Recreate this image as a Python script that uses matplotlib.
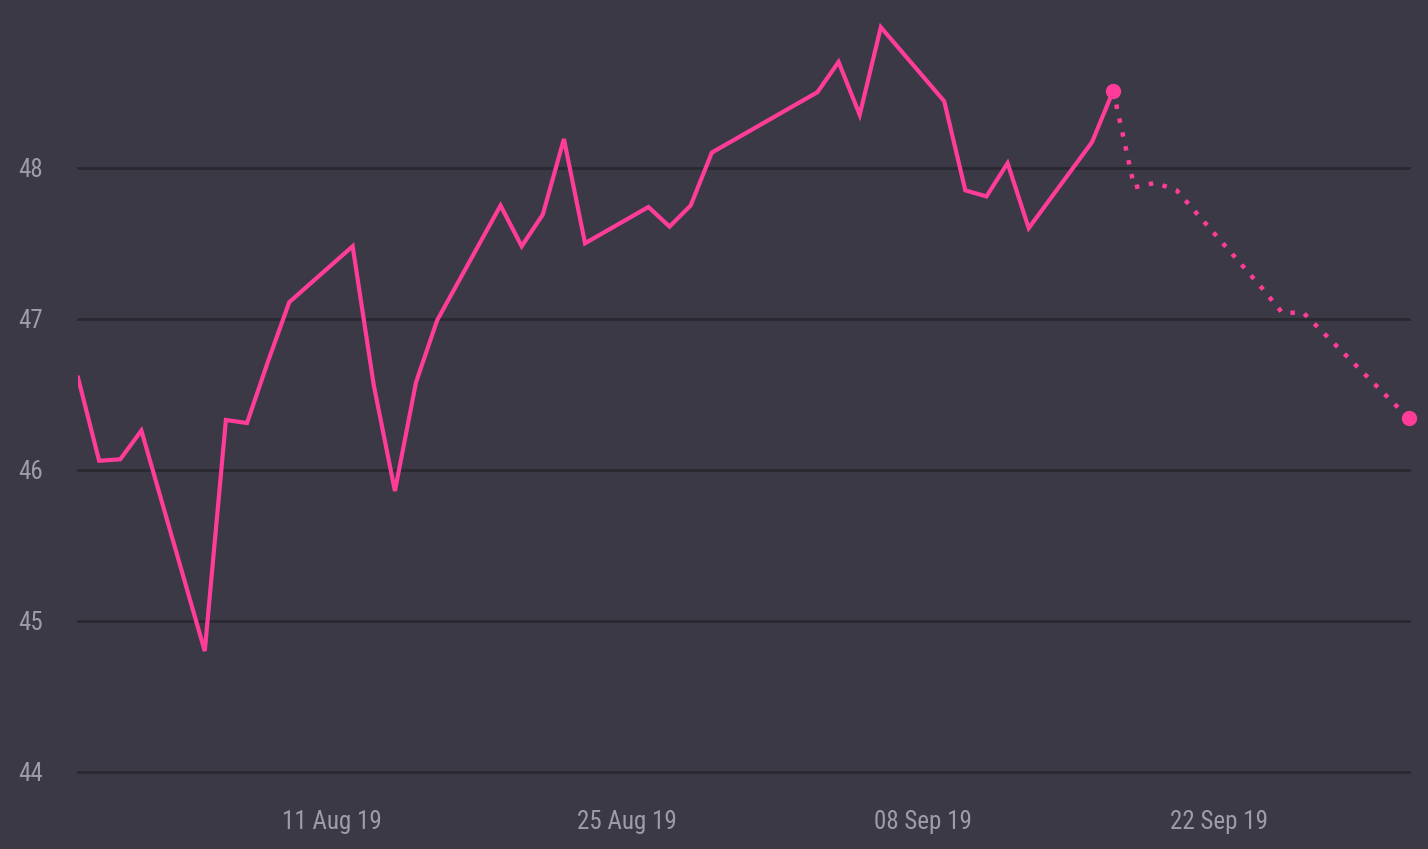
import matplotlib
matplotlib.use("Agg")
import matplotlib.pyplot as plt
import matplotlib.dates as mdates
import pandas as pd
from matplotlib import font_manager

# history (weekdays only)
hist_dates = ["2019-07-30", "2019-07-31", "2019-08-01", "2019-08-02",
              "2019-08-05", "2019-08-06", "2019-08-07", "2019-08-08", "2019-08-09",
              "2019-08-12", "2019-08-13", "2019-08-14", "2019-08-15", "2019-08-16",
              "2019-08-19", "2019-08-20", "2019-08-21", "2019-08-22", "2019-08-23",
              "2019-08-26", "2019-08-27", "2019-08-28", "2019-08-29", "2019-08-30",
              "2019-09-03", "2019-09-04", "2019-09-05", "2019-09-06",
              "2019-09-09", "2019-09-10", "2019-09-11", "2019-09-12", "2019-09-13",
              "2019-09-16", "2019-09-17"]
hist_values = [46.61, 46.06, 46.07, 46.26,
               44.80, 46.33, 46.31, 46.72, 47.11,
               47.48, 46.56, 45.86, 46.58, 46.99,
               47.75, 47.48, 47.69, 48.19, 47.50,
               47.74, 47.61, 47.75, 48.10, 48.18,
               48.50, 48.70, 48.35, 48.93,
               48.44, 47.85, 47.81, 48.03, 47.60,
               48.17, 48.51]

# forecast, starting from the last real value
fc_dates = ["2019-09-17", "2019-09-18", "2019-09-19", "2019-09-20",
            "2019-09-23", "2019-09-24", "2019-09-25", "2019-09-26", "2019-09-27",
            "2019-09-30", "2019-10-01"]
fc_values = [48.51, 47.87, 47.90, 47.85,
             47.37, 47.21, 47.04, 47.04, 46.90,
             46.48, 46.34]

tick_dates = ["2019-08-11", "2019-08-25", "2019-09-08", "2019-09-22"]

bg = "#3a3945"
pink = "#ff3d98"
grid_col = "#2a2931"
text_col = "#9e9cab"

# pick a narrow face if one is around
fonts = font_manager.fontManager.ttflist
names = {f.name for f in fonts}
stretch = "normal"
family = "DejaVu Sans"
for cand in ["Roboto Condensed", "Liberation Sans Narrow", "Open Sans Condensed"]:
    if cand in names:
        family = cand
        break
else:
    if any(f.name == "DejaVu Sans" and f.stretch == "condensed" for f in fonts):
        stretch = "condensed"
    elif any(f.name == "Roboto" and f.stretch == "condensed" for f in fonts):
        family, stretch = "Roboto", "condensed"
    elif any(f.name == "Open Sans" and f.stretch == "condensed" for f in fonts):
        family, stretch = "Open Sans", "condensed"
plt.rcParams["font.family"] = [family, "DejaVu Sans"]
plt.rcParams["font.stretch"] = stretch

hd = pd.to_datetime(hist_dates)
fd = pd.to_datetime(fc_dates)

fig = plt.figure(figsize=(14.28, 8.49), dpi=100, facecolor=bg)
ax = fig.add_axes([78 / 1428, 77 / 849, (1409 - 78) / 1428, 772 / 849])
ax.set_facecolor(bg)

ax.plot(hd, hist_values, color=pink, lw=3, solid_joinstyle="miter", zorder=3)
ax.plot(fd, fc_values, color=pink, lw=3.2, linestyle=(0, (1, 2.2)), zorder=3)
ax.plot([hd[-1], fd[-1]], [hist_values[-1], fc_values[-1]], "o",
        color=pink, ms=10, zorder=4, clip_on=False)

ax.set_xlim(pd.Timestamp("2019-07-30"), pd.Timestamp("2019-10-01"))
ax.set_ylim(44, 49.11)
ax.set_yticks([44, 45, 46, 47, 48])
ax.set_xticks(pd.to_datetime(tick_dates))
ax.xaxis.set_major_formatter(mdates.DateFormatter("%d %b %y"))
ax.grid(axis="y", color=grid_col, lw=2)
for gl in ax.get_ygridlines():
    gl.set_clip_on(False)
ax.set_axisbelow(True)
for s in ax.spines.values():
    s.set_visible(False)
ax.tick_params(axis="both", length=0, labelsize=18, colors=text_col)
ax.tick_params(axis="y", pad=25)
ax.tick_params(axis="x", pad=27)

fig.savefig("out.png", dpi=100, facecolor=bg)
